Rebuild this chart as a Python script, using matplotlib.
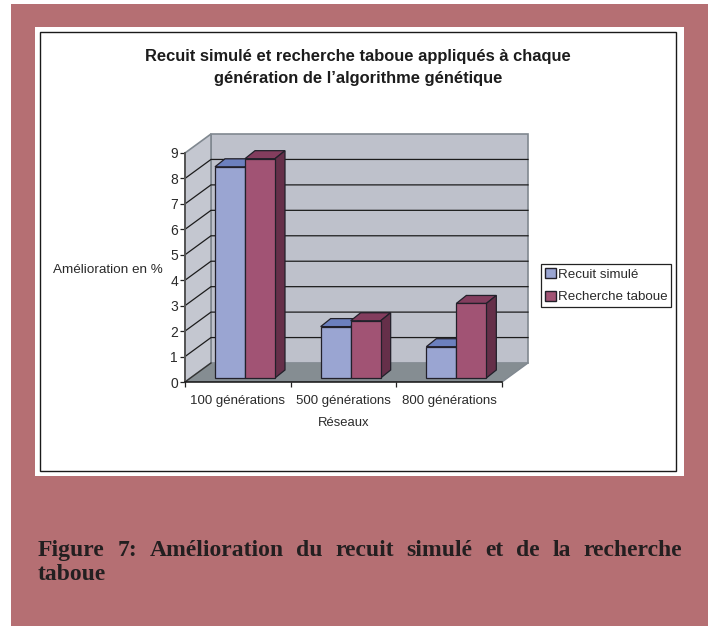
import matplotlib
matplotlib.use("Agg")
import matplotlib.pyplot as plt
from matplotlib.patches import Polygon, Rectangle, Patch

W, H = 712, 626
categories = ["100 générations", "500 générations", "800 générations"]
recuit = [8.3, 2.02, 1.23]
tabou = [8.62, 2.25, 2.93]
series_names = ["Recuit simulé", "Recherche taboue"]
y_ticks = list(range(10))
title_lines = ["Recuit simulé et recherche taboue appliqués à chaque",
               "génération de l’algorithme génétique"]
caption_line1 = "Figure 7: Amélioration du recuit simulé et de la recherche"
caption_line2 = "taboue"

BG = "#B56F73"
FACE = {"a": ("#9AA5D2", "#6C80BE", "#4F5C92"), "b": ("#A15374", "#833D5E", "#652F49")}
WALL, SIDE, FLOOR = "#BEC1CB", "#C4C7D0", "#858D92"
EDGE = "#22202A"
TXT = "#2A2A2A"

plt.rcParams["font.family"] = ["Liberation Sans", "DejaVu Sans"]
fig = plt.figure(figsize=(W / 100, H / 100), dpi=100, facecolor="white")


def frect(x0, y0, x1, y1, **kw):
    fig.add_artist(Rectangle((x0 / W, 1 - y1 / H), (x1 - x0) / W, (y1 - y0) / H,
                             transform=fig.transFigure, zorder=-1, **kw))


frect(11, 4, 708, 626, facecolor=BG, edgecolor="none")
frect(35, 27, 684, 476, facecolor="white", edgecolor="none")
frect(40, 32, 676, 471, facecolor="white", edgecolor="#1a1a1a", linewidth=1.0)

ax = fig.add_axes([185 / W, 1 - 382 / H, 317 / W, 229 / H], facecolor="none")
ax.set_xlim(0, 3)
ax.set_ylim(0, 9)
px_x = 3 / 317
px_y = 9 / 229
dx, dy = 26 * px_x, 19 * px_y    # depth of the floor
bdx, bdy = 10 * px_x, 8 * px_y   # depth of a bar
gx, gy = 6 * px_x, 4 * px_y      # gap floor front -> bar front
bar_w = 30 * px_x
bar_off = 24 * px_x


def poly(pts, fc, ec="none", lw=0.0, z=1):
    ax.add_patch(Polygon(pts, closed=True, facecolor=fc, edgecolor=ec, linewidth=lw,
                         zorder=z, clip_on=False, joinstyle="miter"))


# walls and floor
poly([(dx, dy), (3 + dx, dy), (3 + dx, 9 + dy), (dx, 9 + dy)], WALL, "#808890", 1.2)
poly([(0, 0), (dx, dy), (dx, 9 + dy), (0, 9)], SIDE, "#808890", 1.2)
poly([(0, 0), (3, 0), (3 + dx, dy), (dx, dy)], FLOOR, "none", 0, z=1.2)
for v in y_ticks[1:-1]:
    ax.plot([0, dx, 3 + dx], [v, v + dy, v + dy], color="#1c1c1c", lw=0.9, zorder=1.5,
            clip_on=False, solid_joinstyle="miter")
ax.plot([3, 3 + dx], [0, dy], color="#808890", lw=1.0, zorder=1.3, clip_on=False)
ax.plot([0, dx], [0, dy], color="#333333", lw=1.0, zorder=1.3, clip_on=False)


def bar3d(x, v, colors, z):
    front, top, side = colors
    x0, x1 = x + gx, x + gx + bar_w
    b, t = gy, v + gy
    poly([(x0, t), (x1, t), (x1 + bdx, t + bdy), (x0 + bdx, t + bdy)], top, EDGE, 0.9, z)
    poly([(x1, b), (x1 + bdx, b + bdy), (x1 + bdx, t + bdy), (x1, t)], side, EDGE, 0.9, z)
    poly([(x0, b), (x1, b), (x1, t), (x0, t)], front, EDGE, 0.9, z + 0.1)


for i, (a, b) in enumerate(zip(recuit, tabou)):
    bar3d(i + bar_off, a, FACE["a"], 2 + i)
    bar3d(i + bar_off + bar_w, b, FACE["b"], 2.3 + i)

# axes
for s in ("top", "right"):
    ax.spines[s].set_visible(False)
ax.spines["left"].set_color("#555555")
ax.spines["left"].set_linewidth(1.4)
ax.spines["bottom"].set_color("#111111")
ax.spines["bottom"].set_linewidth(1.1)
for s in ax.spines.values():
    s.set_zorder(8)
ax.set_yticks(y_ticks)
ax.set_xticks(range(4))
ax.set_xticklabels([])
ax.set_xticks([0.5, 1.5, 2.5], minor=True)
ax.set_xticklabels(categories, minor=True)
ax.tick_params(axis="x", which="major", length=3.5, width=0.9, color="#222222", direction="out")
ax.tick_params(axis="x", which="minor", length=0, labelsize=9.5, pad=9.5, labelcolor=TXT)
ax.tick_params(axis="y", length=3.5, width=0.9, color="#222222", labelsize=10, pad=1.5, labelcolor=TXT)

fig.text(344 / W, 1 - 422.5 / H, "Réseaux", ha="center", va="center", fontsize=9.4, color=TXT)
fig.text(108 / W, 1 - 270 / H, "Amélioration en %", ha="center", va="center", fontsize=9.7, color=TXT)
for line, y in zip(title_lines, (56.5, 78.5)):
    fig.text(358 / W, 1 - y / H, line, ha="center", va="center", fontsize=11.9, fontweight="bold", color="#1c1c1c")

leg = fig.legend(handles=[Patch(facecolor=FACE["a"][0], edgecolor=EDGE, label=series_names[0]),
                          Patch(facecolor=FACE["b"][0], edgecolor=EDGE, label=series_names[1])],
                 loc="upper left", bbox_to_anchor=(541 / W, 1 - 264 / H), fontsize=9.6,
                 fancybox=False, framealpha=1, edgecolor="#222222", borderpad=0.3,
                 handlelength=0.8, handleheight=0.8, handletextpad=0.15, labelspacing=0.75,
                 borderaxespad=0, labelcolor=TXT)
leg.get_frame().set_linewidth(0.9)

# caption, justified word by word
cap = dict(fontsize=17, fontweight="bold", color="#231F20", family="Liberation Serif", va="baseline")
renderer = fig.canvas.get_renderer()
words = caption_line1.split(" ")
arts = [fig.text(0, 1 - 556 / H, w, **cap) for w in words]
widths = [a.get_window_extent(renderer).width for a in arts]
left, right = 38, 682
gap = (right - left - sum(widths)) / (len(words) - 1)
x = left
for a, w in zip(arts, widths):
    a.set_x(x / W)
    x += w + gap
fig.text(38 / W, 1 - 580 / H, caption_line2, **cap)

fig.savefig("out.png", dpi=100, facecolor=fig.get_facecolor())
